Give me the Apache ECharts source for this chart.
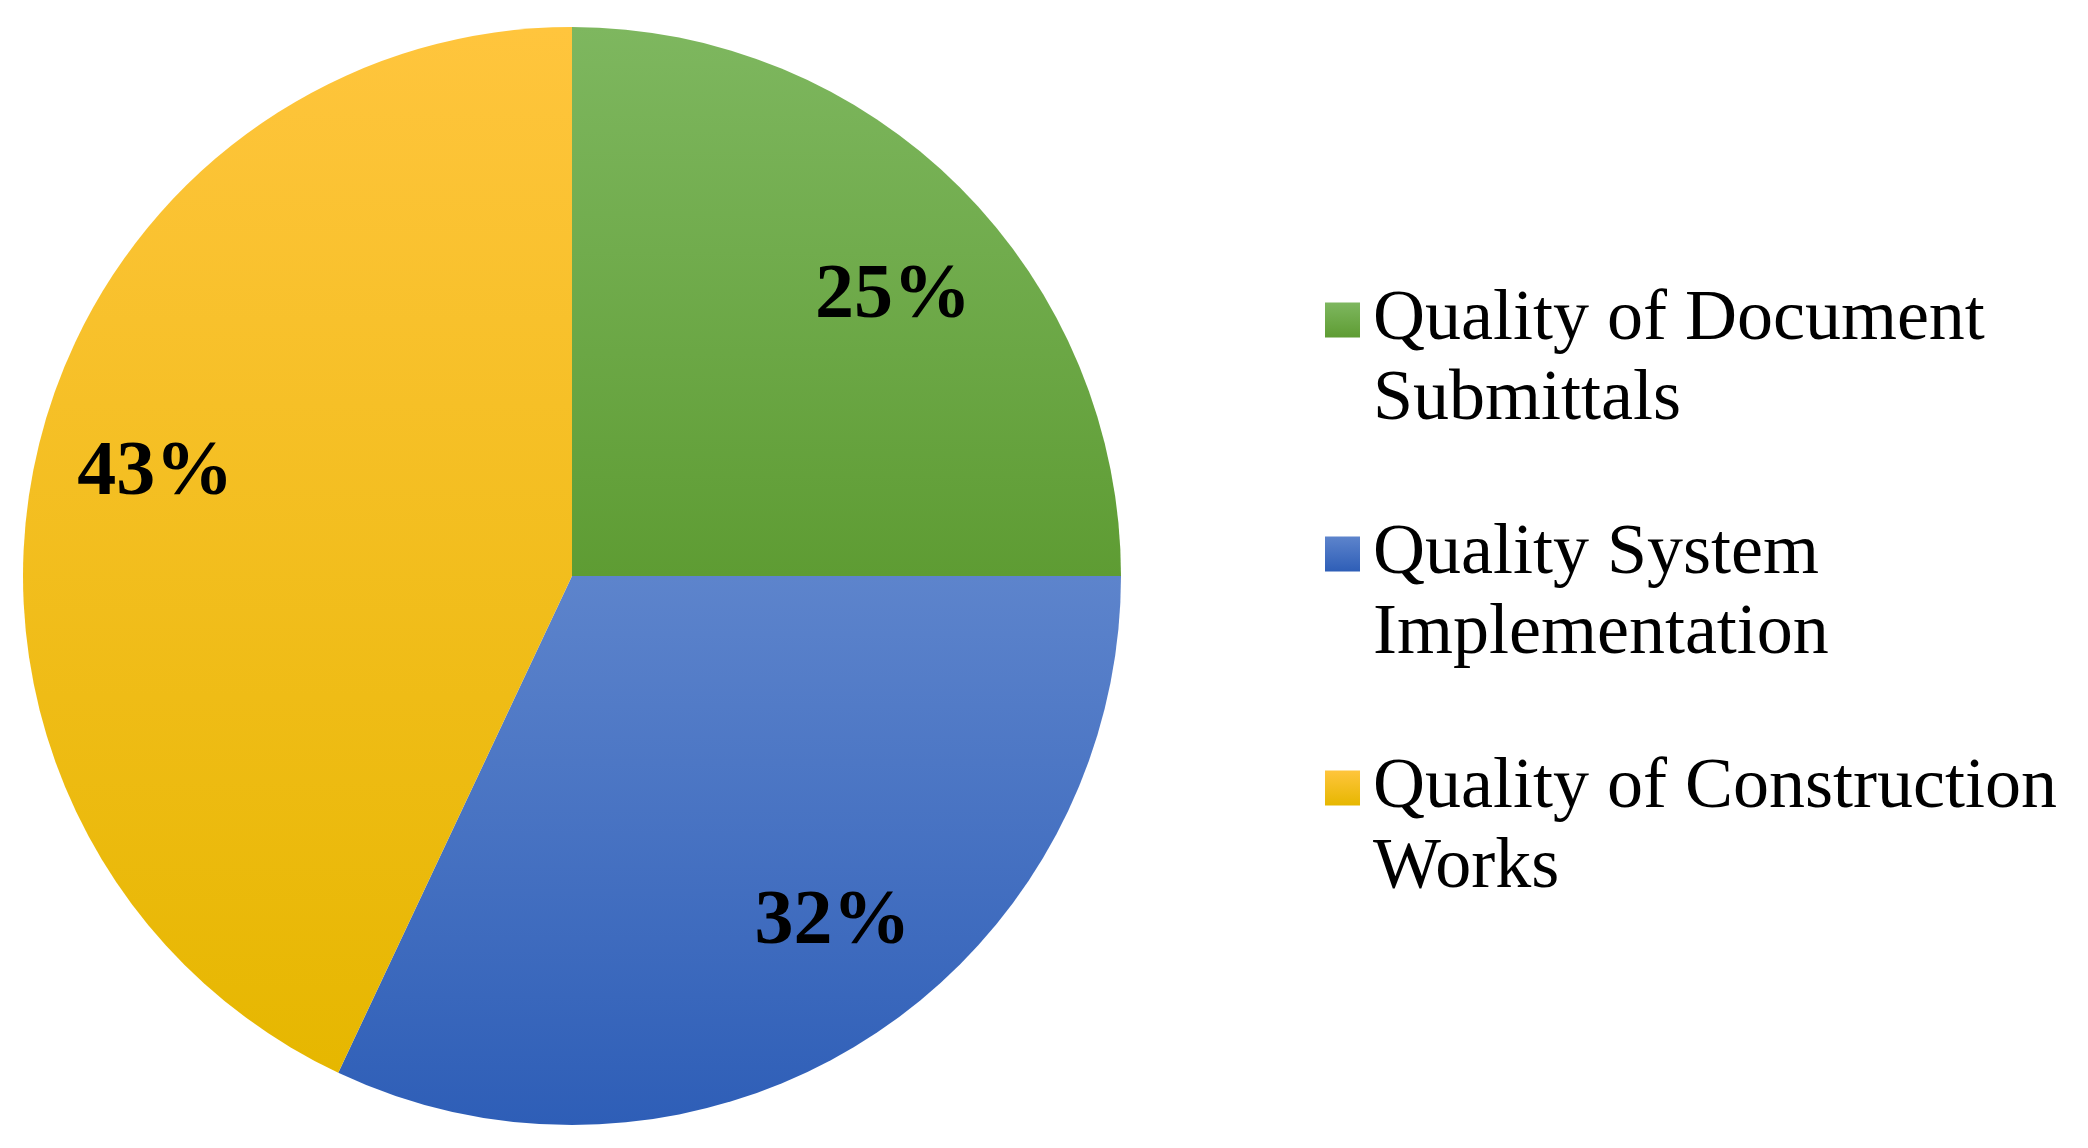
<!DOCTYPE html>
<html>
<head>
<meta charset="utf-8">
<script src="https://cdn.jsdelivr.net/npm/echarts@6/dist/echarts.min.js"></script>
<style>
  html, body { margin: 0; padding: 0; background: #fff; }
  #chart { width: 2088px; height: 1148px; }
</style>
</head>
<body>
<div id="chart"></div>
<script>
const categories = [
  'Quality of Document\nSubmittals',
  'Quality System\nImplementation',
  'Quality of Construction\nWorks'
];
const shares = [25, 32, 43];
const labels = ['25%', '32%', '43%'];

// office-style vertical gradients per slice
const colorTop = ['#7eb75f', '#5d84cc', '#ffc53d'];
const colorBottom = ['#5e9c33', '#2e5eb7', '#e6b700'];

const chart = echarts.init(document.getElementById('chart'));

function grad(i) {
  return new echarts.graphic.LinearGradient(0, 0, 0, 1, [
    { offset: 0, color: colorTop[i] },
    { offset: 1, color: colorBottom[i] }
  ]);
}

const center = [572, 576];
const R = 549;
// small nudges so the labels sit where the original put them
const labelShift = [[17, 25], [30, -16], [3, -8]];

const option = {
  animation: false,
  legend: {
    orient: 'vertical',
    left: 1320,
    top: 195,
    itemWidth: 35,
    itemHeight: 35,
    itemGap: -6,
    icon: 'rect',
    data: categories,
    // blank first line keeps the marker level with the first text line
    formatter: name => ' \n' + name,
    textStyle: {
      fontFamily: '"Liberation Serif", "Times New Roman", serif',
      fontSize: 72,
      lineHeight: 80,
      color: '#000',
      padding: [0, 0, 0, 8]
    }
  },
  series: [
    {
      name: 'main',
      type: 'pie',
      center: center,
      radius: [0, R],
      startAngle: 90,
      clockwise: true,
      silent: true,
      label: { show: false },
      labelLine: { show: false },
      itemStyle: { borderWidth: 0 },
      data: categories.map((c, i) => ({
        name: c,
        value: shares[i],
        itemStyle: { color: grad(i) }
      }))
    },
    {
      // transparent ring only used to place the percentage labels
      name: 'labels',
      type: 'pie',
      center: center,
      radius: [305, R],
      startAngle: 90,
      clockwise: true,
      silent: true,
      itemStyle: { color: 'transparent', borderWidth: 0 },
      label: {
        show: true,
        position: 'inside',
        formatter: p => labels[p.dataIndex],
        fontFamily: '"Liberation Serif", "Times New Roman", serif',
        fontWeight: 'bold',
        fontSize: 78,
        color: '#000'
      },
      labelLayout: p => ({ dx: labelShift[p.dataIndex][0], dy: labelShift[p.dataIndex][1] }),
      labelLine: { show: false },
      data: categories.map((c, i) => ({ name: c, value: shares[i] }))
    }
  ]
};

chart.setOption(option);
</script>
</body>
</html>
